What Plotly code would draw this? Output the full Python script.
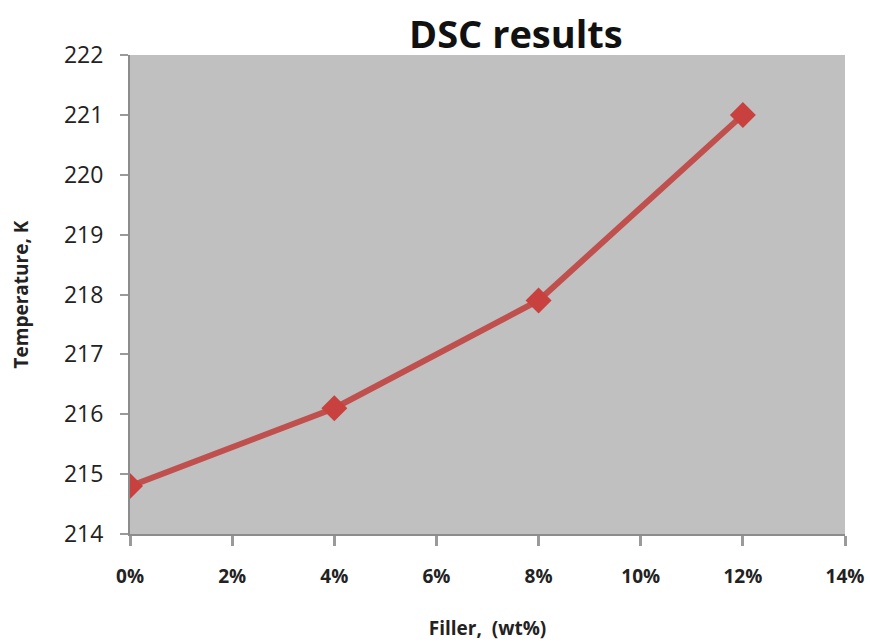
import plotly.graph_objects as go

filler_pct = [0, 4, 8, 12]
temperature_k = [214.8, 216.1, 217.9, 221.0]
x_ticks = [0, 2, 4, 6, 8, 10, 12, 14]
x_tick_labels = [f"<b>{v}%</b>" for v in x_ticks]
y_ticks = [214, 215, 216, 217, 218, 219, 220, 221, 222]

fig = go.Figure()
fig.add_trace(go.Scatter(
    x=filler_pct, y=temperature_k, mode="lines+markers",
    line=dict(color="#c0504d", width=6),
    marker=dict(symbol="diamond", size=20, color="#c8413f"),
    showlegend=False,
))

fig.update_layout(
    width=870, height=642,
    margin=dict(l=130, r=25, t=55, b=108, autoexpand=False),
    paper_bgcolor="white", plot_bgcolor="#c0c0c0",
    font=dict(family="Open Sans", color="#222222"),
    annotations=[
        dict(text="<b>DSC results</b>", x=(516 - 130) / 715, y=(642 - 33 - 108) / 479,
             xref="paper", yref="paper", xanchor="center", yanchor="middle",
             showarrow=False, font=dict(size=38, color="#111111")),
    ],
)

fig.update_xaxes(
    range=[0, 14], tickvals=x_ticks, ticktext=x_tick_labels,
    tickfont=dict(size=19, family="Open Sans", color="#222222"),
    ticklabelstandoff=14, automargin=False,
    showgrid=False, zeroline=False,
    showline=True, linecolor="#8c8c8c", linewidth=2,
    ticks="outside", ticklen=10, tickwidth=3, tickcolor="#9a9a9a",
    title=dict(text="<b>Filler,  (wt%)</b>", font=dict(size=19), standoff=34),
)
fig.update_yaxes(
    range=[214, 222], tickvals=y_ticks,
    tickfont=dict(size=23, family="Open Sans", color="#222222"),
    ticklabelstandoff=12, automargin=False,
    showgrid=False, zeroline=False,
    showline=True, linecolor="#8c8c8c", linewidth=2,
    ticks="outside", ticklen=8, tickwidth=2, tickcolor="#9a9a9a",
    title=dict(text="<b>Temperature, K</b>", font=dict(size=19), standoff=30),
)

fig.write_html("out.html")
